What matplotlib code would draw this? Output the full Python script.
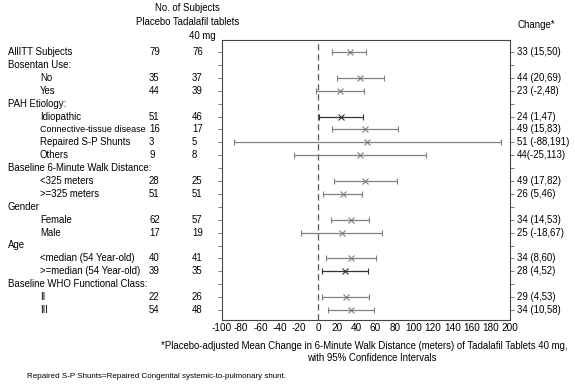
import matplotlib.pyplot as plt

plt.rcParams['font.family'] = ['Liberation Sans', 'DejaVu Sans']

# ---- data ----
row_labels = ["AllITT Subjects", "Bosentan Use:", "No", "Yes", "PAH Etiology:",
              "Idiopathic", "Connective-tissue disease", "Repaired S-P Shunts", "Others",
              "Baseline 6-Minute Walk Distance:", "<325 meters", ">=325 meters",
              "Gender", "Female", "Male", "Age", "<median (54 Year-old)",
              ">=median (54 Year-old)", "Baseline WHO Functional Class:", "II", "III"]
is_header = [True, True, False, False, True, False, False, False, False, True,
             False, False, True, False, False, True, False, False, True, False, False]
n_placebo = [79, None, 35, 44, None, 51, 16, 3, 9, None, 28, 51, None, 62, 17,
             None, 40, 39, None, 22, 54]
n_tadalafil = [76, None, 37, 39, None, 46, 17, 5, 8, None, 25, 51, None, 57, 19,
               None, 41, 35, None, 26, 48]
est = [33, None, 44, 23, None, 24, 49, 51, 44, None, 49, 26, None, 34, 25,
       None, 34, 28, None, 29, 34]
lo = [15, None, 20, -2, None, 1, 15, -88, -25, None, 17, 5, None, 14, -18,
      None, 8, 4, None, 4, 10]
hi = [50, None, 69, 48, None, 47, 83, 191, 113, None, 82, 46, None, 53, 67,
      None, 60, 52, None, 53, 58]
change_text = ["33 (15,50)", "", "44 (20,69)", "23 (-2,48)", "", "24 (1,47)",
               "49 (15,83)", "51 (-88,191)", "44(-25,113)", "", "49 (17,82)",
               "26 (5,46)", "", "34 (14,53)", "25 (-18,67)", "", "34 (8,60)",
               "28 (4,52)", "", "29 (4,53)", "34 (10,58)"]
dark_rows = [5, 17]
xticks = list(range(-100, 201, 20))

W, H = 575, 384
fig = plt.figure(figsize=(W / 100, H / 100), dpi=100)
ax_l, ax_r, ax_t, ax_b = 222, 510, 40, 320
ax = fig.add_axes([ax_l / W, 1 - ax_b / H, (ax_r - ax_l) / W, (ax_b - ax_t) / H])

n = len(row_labels)
row_h = 12.9
ax.set_ylim(20 + (ax_b - 310) / row_h, -(52 - ax_t) / row_h)
ax.set_xlim(-100, 200)

ax.axvline(0, color='#555555', lw=0.9, ls=(0, (5, 3)))

for i in range(n):
    if est[i] is None:
        continue
    c = '#333333' if i in dark_rows else '#808080'
    ax.errorbar(est[i], i, xerr=[[est[i] - lo[i]], [hi[i] - est[i]]], fmt='x',
                color=c, ecolor=c, elinewidth=0.9, capsize=2.5, capthick=0.9,
                markersize=4, markeredgewidth=0.8)

fs = 6.9
ax.set_xticks(xticks)
ax.set_xticklabels([str(t) for t in xticks], fontsize=fs + 0.3)
ax.set_yticks(range(n))
ax.set_yticklabels([])
ax.tick_params(axis='y', left=True, right=True, length=3, width=0.6, color='#666666')
ax.tick_params(axis='x', length=0, pad=2)
for s in ax.spines.values():
    s.set_linewidth(0.8)
    s.set_color('#444444')

# left columns, x in figure pixels
def fx(px):
    return (px - ax_l) / (ax_r - ax_l)

tr = ax.get_yaxis_transform()
for i in range(n):
    x0 = 8 if is_header[i] else 40
    lab_fs = 6.5 if row_labels[i].startswith("Connective") else fs
    ax.text(fx(x0), i, row_labels[i], transform=tr, ha='left', va='center', fontsize=lab_fs)
    if n_placebo[i] is not None:
        ax.text(fx(149), i, str(n_placebo[i]), transform=tr, ha='left', va='center', fontsize=fs)
        ax.text(fx(192), i, str(n_tadalafil[i]), transform=tr, ha='left', va='center', fontsize=fs)
    if change_text[i]:
        ax.text(fx(517), i, change_text[i], transform=tr, ha='left', va='center', fontsize=fs)

def ftext(px, py, s, **kw):
    fig.text(px / W, 1 - py / H, s, fontsize=fs, va='center', **kw)

ftext(187, 8, "No. of Subjects", ha='center')
ftext(188, 22, "Placebo Tadalafil tablets", ha='center')
ftext(202, 36, "40 mg", ha='center')
ftext(517, 25, "Change*", ha='left')
ftext(364, 346, "*Placebo-adjusted Mean Change in 6-Minute Walk Distance (meters) of Tadalafil Tablets 40 mg,", ha='center')
ftext(372, 358, "with 95% Confidence Intervals", ha='center')
fig.text(27 / W, 1 - 377 / H, "Repaired S-P Shunts=Repaired Congenital systemic-to-pulmonary shunt.",
         fontsize=5.8, va='center', ha='left')

fig.savefig("out.png", dpi=100)
